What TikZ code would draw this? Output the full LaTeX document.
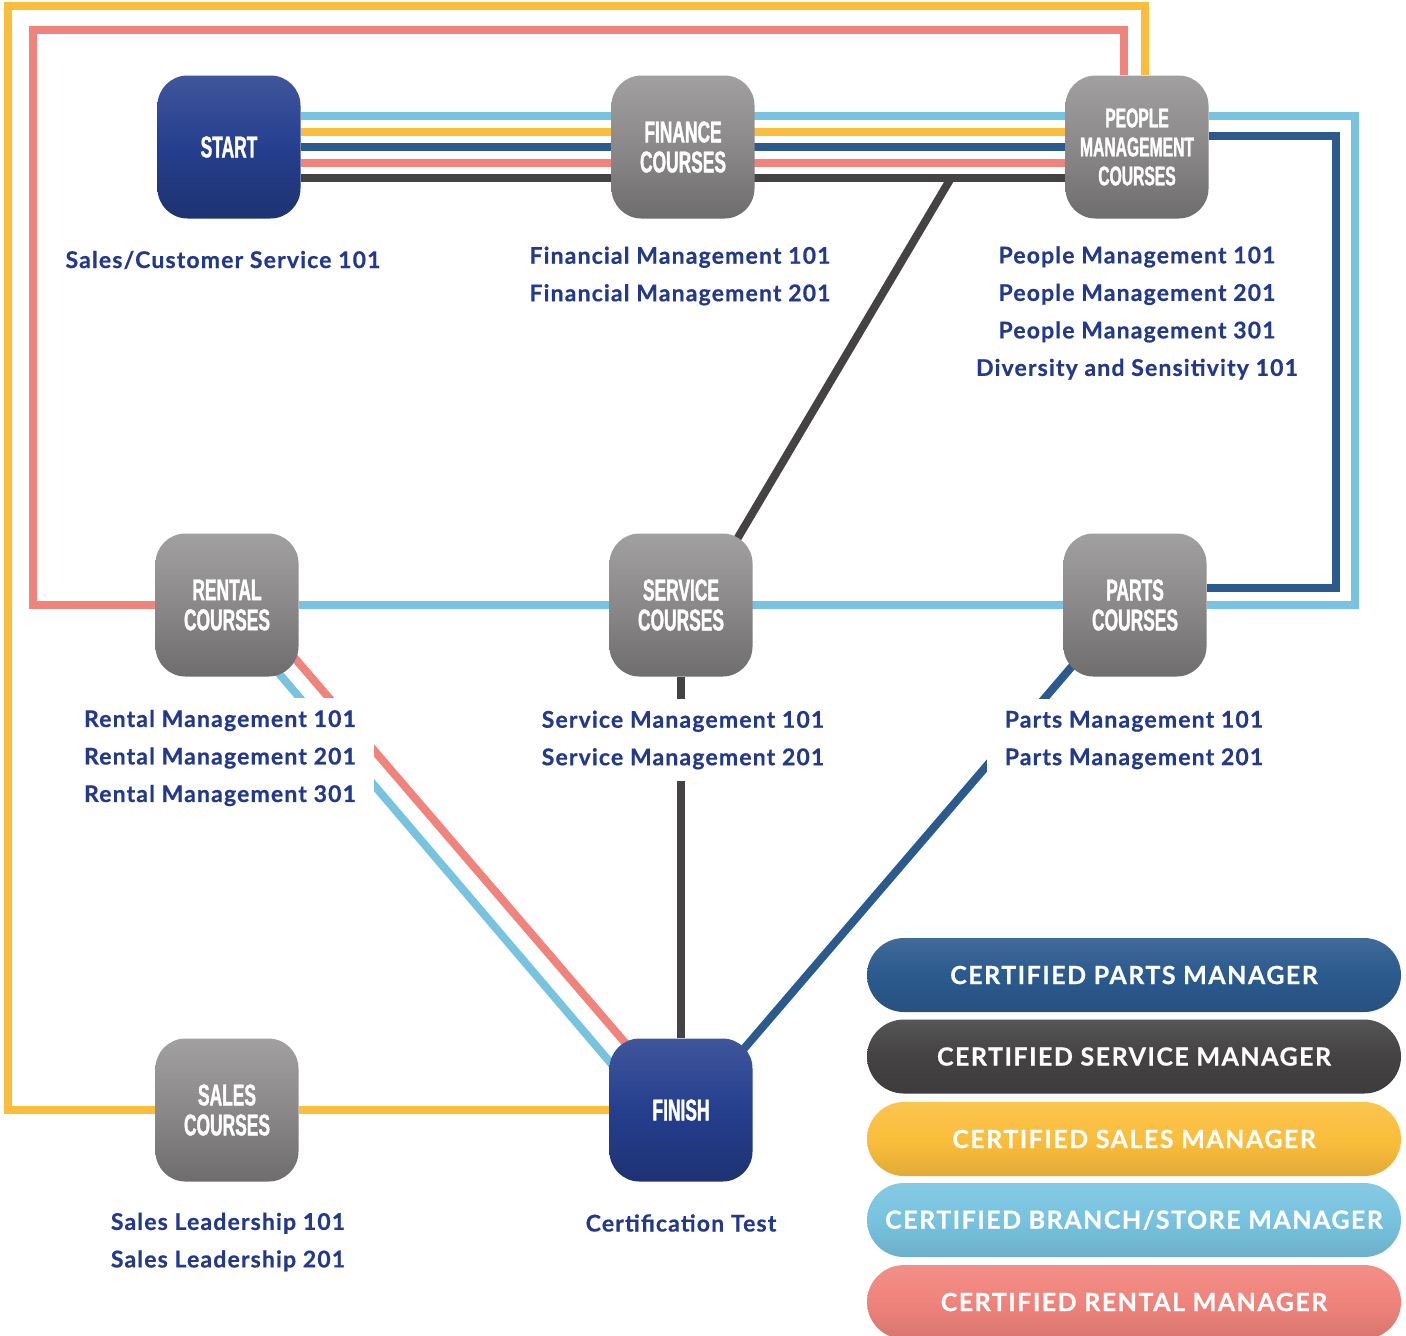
\documentclass[tikz,border=0pt]{standalone}
\usepackage{fontspec}
\setmainfont{Lato}
\newfontfamily\boxfont[FakeStretch=0.58, FakeBold=1.2]{Liberation Sans}
\newfontfamily\infofont[LetterSpace=5, FakeBold=0.6]{Lato}
\newfontfamily\certfont[LetterSpace=6, FakeBold=0.6]{Lato}
\usetikzlibrary{backgrounds}
\definecolor{lblue}{HTML}{78C3E0}
\definecolor{gold}{HTML}{FBBE3C}
\definecolor{navy}{HTML}{2B5A8E}
\definecolor{salmon}{HTML}{F0837B}
\definecolor{slate}{HTML}{444242}
\definecolor{royal}{HTML}{253F8E}
\definecolor{stone}{HTML}{8A8889}
\definecolor{ink}{HTML}{233A8C}

\begin{document}
\begin{tikzpicture}[x=0.5pt,y=-0.5pt]
\tikzstyle{box}=[rounded corners=15pt, minimum size=71.5pt, inner sep=0pt, align=center, text=white, font=\boxfont\bfseries\fontsize{15}{15}\selectfont]
\tikzstyle{hub}=[box, top color=royal!88!white, bottom color=royal!80!black, middle color=royal]
\tikzstyle{course}=[box, top color=stone!80!white, bottom color=stone!80!black, middle color=stone]
\tikzstyle{info}=[align=center, text=ink, fill=white, inner xsep=9pt, inner ysep=6pt, font=\infofont\bfseries\fontsize{11.5}{18.75}\selectfont]
\tikzstyle{pill}=[rounded corners=18.5pt, minimum width=267pt, minimum height=37pt, text=white, font=\certfont\bfseries\fontsize{12.5}{15}\selectfont]
\tikzstyle{track}=[line width=4pt]

\useasboundingbox (0,0) rectangle (1406,1335);

\node[hub] (start) at (229,147) {START};
\node[course] (finance) at (683,147) {FINANCE\\COURSES};
\node[course, font=\boxfont\bfseries\fontsize{13.5}{14.5}\selectfont] (people) at (1137,147) {PEOPLE\\MANAGEMENT\\COURSES};
\node[course] (rental) at (227,605) {RENTAL\\COURSES};
\node[course] (service) at (681,605) {SERVICE\\COURSES};
\node[course] (parts) at (1135,605) {PARTS\\COURSES};
\node[course] (sales) at (227,1110) {SALES\\COURSES};
\node[hub] (finish) at (681,1110) {FINISH};

\node[info] (startinfo) at (223,260) {Sales/Customer Service 101};
\node[info] (financeinfo) at (680,276) {Financial Management 101\\Financial Management 201};
\node[info] (peopleinfo) at (1137,313) {People Management 101\\People Management 201\\People Management 301\\Diversity and Sensitivity 101};
\node[info] (rentalinfo) at (220,758) {Rental Management 101\\Rental Management 201\\Rental Management 301};
\node[info] (serviceinfo) at (683,740) {Service Management 101\\Service Management 201};
\node[info] (partsinfo) at (1134,740) {Parts Management 101\\Parts Management 201};
\node[info] (salesinfo) at (228,1242) {Sales Leadership 101\\Sales Leadership 201};
\node[info] (finishinfo) at (681,1223) {Certification Test};

\node[pill, top color=navy!90!white, bottom color=navy!90!black, middle color=navy] (partscert) at (1134,975) {CERTIFIED PARTS MANAGER};
\node[pill, top color=slate!90!white, bottom color=slate!90!black, middle color=slate] (servicecert) at (1134,1056.5) {CERTIFIED SERVICE MANAGER};
\node[pill, top color=gold!90!white, bottom color=gold!90!black, middle color=gold] (salescert) at (1134,1139) {CERTIFIED SALES MANAGER};
\node[pill, top color=lblue!90!white, bottom color=lblue!90!black, middle color=lblue] (branchcert) at (1134,1220) {CERTIFIED BRANCH/STORE MANAGER};
\node[pill, top color=salmon!90!white, bottom color=salmon!90!black, middle color=salmon] (rentalcert) at (1134,1302) {CERTIFIED RENTAL MANAGER};

\coordinate (fork) at (951,178);

\begin{scope}[on background layer]
\foreach \col/\dy in {lblue/15.5pt, gold/7.5pt, navy/0pt, salmon/-8pt, slate/-15.5pt}
  \draw[track, \col, shorten <=-5pt, shorten >=-5pt]
    ([yshift=\dy]start.east) -- ([yshift=\dy]finance.west)
    ([yshift=\dy]finance.east) -- ([yshift=\dy]people.west);
\draw[track, slate] (fork) -- ([xshift=8.5pt]service.center);
\draw[track, lblue] ([yshift=15.5pt]people.east) -| ([xshift=74pt]parts.east) -- (parts.east);
\draw[track, navy] ([yshift=5.5pt]people.east) -| ([xshift=64.5pt,yshift=8.5pt]parts.east) -- ([yshift=8.5pt]parts.east);
\draw[track, lblue] (rental) -- (parts);
\draw[track, salmon] (rental.west) -| (33,30) -| ([xshift=-6.5pt]people.north);
\draw[track, gold] ([xshift=4pt]people.north) |- (8,6) |- (sales.west);
\draw[track, gold] (sales) -- (finish);
\draw[track, slate] (service) -- (finish);
\draw[track, lblue, shorten <=-10pt, shorten >=-10pt] ([xshift=-8.5pt]rental.south east) -- ([yshift=-11.5pt]finish.north west);
\draw[track, salmon, shorten <=-10pt, shorten >=-10pt] ([yshift=7pt]rental.south east) -- ([xshift=6pt]finish.north west);
\draw[track, navy, shorten <=-10pt, shorten >=-10pt] ([xshift=5.5pt,yshift=6.5pt]parts.south west) -- ([xshift=-5.5pt,yshift=-6.5pt]finish.north east);
\end{scope}
\end{tikzpicture}
\end{document}
